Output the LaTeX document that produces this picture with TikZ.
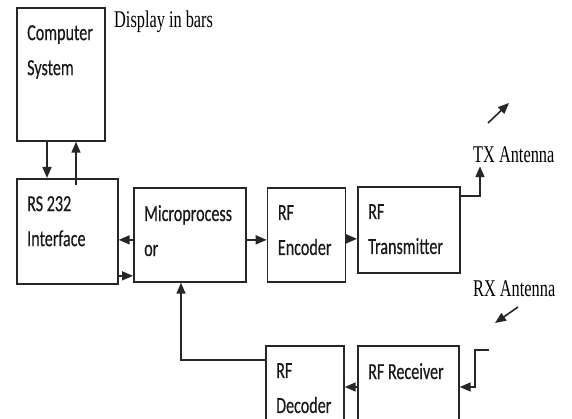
\documentclass[tikz,border=0pt]{standalone}
\usepackage{fontspec}
\setmainfont{Carlito}
\newfontfamily\boxfont[FakeStretch=0.7, FakeBold=0.4]{Carlito}
\newfontfamily\notefont[FakeStretch=0.68]{Liberation Serif}
\usetikzlibrary{arrows.meta, positioning}

\begin{document}
\begin{tikzpicture}[x=1pt, y=-1pt,
        block/.style={draw=black!85, line width=1.7pt, rectangle, anchor=north west, inner sep=0pt},
        blocktext/.style={anchor=north west, inner sep=0pt, align=left, xshift=11pt, yshift=-18pt, text=black!90, font=\boxfont\fontsize{23}{35}\selectfont},
        note/.style={anchor=west, inner sep=0pt, font=\notefont\fontsize{24}{26}\selectfont},
        arrow/.style={line width=1.6pt, draw=black!85, -{Triangle[length=11pt, width=9pt]}}
    ]
        \useasboundingbox (0,0) rectangle (572,419);

        \node[block, minimum width=88pt, minimum height=133pt, label={[blocktext]north west:{Computer\\System}}] (comp) at (16,7) {};
        \node[block, minimum width=101pt, minimum height=105pt, label={[blocktext]north west:{RS 232\\Interface}}] (rs) at (16,178) {};
        \node[block, minimum width=112pt, minimum height=94pt, label={[blocktext]north west:{Microprocess\\or}}] (micro) at (133,187) {};
        \node[block, minimum width=78pt, minimum height=94pt, right=20pt of micro, label={[blocktext]north west:{RF\\Encoder}}] (enc) {};
        \node[block, minimum width=102pt, minimum height=86pt, label={[blocktext]north west:{RF\\Transmitter}}] (trans) at (357,186) {};
        \node[block, minimum width=78pt, minimum height=100pt, label={[blocktext]north west:{RF\\Decoder}}] (dec) at (265,345) {};
        \node[block, minimum width=101pt, minimum height=100pt, label={[blocktext]north west:{RF Receiver}}] (rx) at (357,345) {};

        \node[note] (disp) at (114,22) {Display in bars};
        \node[note] (txant) at (473,155) {TX Antenna};
        \node[note] (rxant) at (473,289) {RX Antenna};

        \coordinate (mr) at ([yshift=-5pt]micro.west);
        \coordinate (rm) at ([yshift=-44.5pt]rs.east);
        \coordinate (et) at ([yshift=-4pt]enc.east);
        \coordinate (rr) at ([yshift=-42pt]rx.north east);
        \coordinate (txa) at (488,123);
        \coordinate (txb) at (509,103);
        \coordinate (rxa) at (518,307);
        \coordinate (rxb) at (495,323);
        \coordinate (rxin) at (489,350);

        \draw[arrow] ([xshift=31pt]comp.south west) -- ([xshift=31pt]rs.north west);
        \draw[arrow] ([xshift=60pt, yshift=-7pt]rs.north west) -- ([xshift=60pt]comp.south west);
        \draw[arrow] (mr) -- (mr -| rs.east);
        \draw[arrow] (rm) -- (rm -| micro.west);
        \draw[arrow] (mr -| micro.east) -- (mr -| enc.west);
        \draw[arrow] (et) -- (et -| trans.west);
        \draw[arrow] ([yshift=-10pt]trans.north east) -| ([xshift=7pt, yshift=-3pt]txant.south west);
        \draw[arrow] (txa) -- (txb);

        \draw[arrow] (rxa) -- (rxb);
        \draw[arrow] (rxin) -| ([xshift=15pt]rr) -- (rr);
        \draw[arrow] (rr -| rx.west) -- (rr -| dec.east);
        \draw[arrow] ([yshift=-15pt]dec.north west) -| ([xshift=48pt]micro.south west);
    \end{tikzpicture}
\end{document}
